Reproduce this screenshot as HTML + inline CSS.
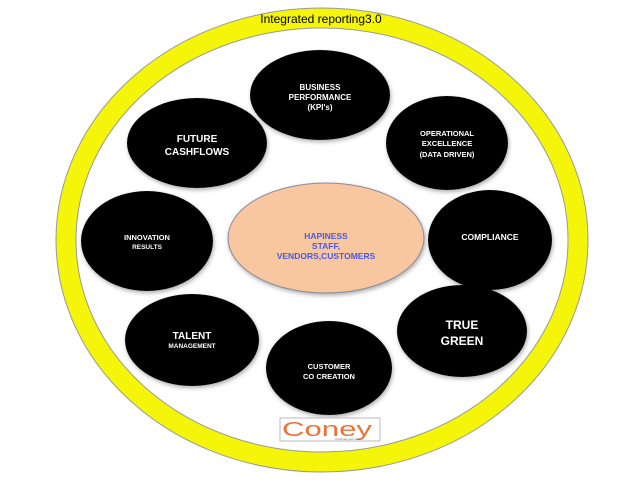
<!DOCTYPE html>
<html><head><style>
html,body{margin:0;padding:0;background:#fff;}
text{font-family:"Liberation Sans",sans-serif;}
</style></head><body>
<svg width="640" height="480" viewBox="0 0 640 480" xmlns="http://www.w3.org/2000/svg">
<defs><filter id="s" x="-20%" y="-20%" width="140%" height="140%"><feDropShadow dx="1" dy="2" stdDeviation="2" flood-color="#777" flood-opacity="0.6"/></filter></defs>
<ellipse cx="322" cy="240" rx="266" ry="232" fill="#f5f50a" stroke="#999" stroke-width="1"/>
<ellipse cx="322" cy="240" rx="246" ry="212" fill="#fff" stroke="#999" stroke-width="1"/>
<text x="321" y="23" font-size="12" text-anchor="middle" fill="#000">Integrated reporting3.0</text>
<g fill="#000" filter="url(#s)">
<ellipse cx="320" cy="95" rx="70" ry="45"/>
<ellipse cx="197" cy="143" rx="70" ry="45"/>
<ellipse cx="447" cy="143" rx="61" ry="47"/>
<ellipse cx="147" cy="241" rx="66" ry="50"/>
<ellipse cx="490" cy="240" rx="62" ry="50"/>
<ellipse cx="192" cy="340" rx="67" ry="46"/>
<ellipse cx="462" cy="331" rx="65" ry="46"/>
<ellipse cx="329" cy="368" rx="63" ry="47"/>
</g>
<ellipse cx="326" cy="238" rx="98" ry="55" fill="#f8c79f" stroke="#8a8a9a" stroke-width="1" filter="url(#s)"/>
<g fill="#fff" text-anchor="middle" font-weight="bold">
<text x="320" y="90" font-size="8">BUSINESS</text>
<text x="320" y="100" font-size="8">PERFORMANCE</text>
<text x="320" y="110" font-size="8">(KPI's)</text>
<text x="197" y="142" font-size="10">FUTURE</text>
<text x="197" y="155" font-size="10">CASHFLOWS</text>
<text x="447" y="136" font-size="7.5">OPERATIONAL</text>
<text x="447" y="146" font-size="7.5">EXCELLENCE</text>
<text x="447" y="157" font-size="7.5">(DATA DRIVEN)</text>
<text x="147" y="240" font-size="7.5">INNOVATION</text>
<text x="147" y="249" font-size="6.5">RESULTS</text>
<text x="490" y="240" font-size="8.5">COMPLIANCE</text>
<text x="192" y="339" font-size="10">TALENT</text>
<text x="192" y="348" font-size="6.5">MANAGEMENT</text>
<text x="462" y="329" font-size="12">TRUE</text>
<text x="462" y="345" font-size="12">GREEN</text>
<text x="329" y="369" font-size="7.5">CUSTOMER</text>
<text x="329" y="379" font-size="7.5">CO CREATION</text>
</g>
<g fill="#4a5ae0" text-anchor="middle" font-weight="bold" font-size="8.5">
<text x="326" y="239">HAPINESS</text>
<text x="326" y="249">STAFF,</text>
<text x="326" y="259">VENDORS,CUSTOMERS</text>
</g>
<rect x="280" y="418" width="100" height="23" fill="#fff" stroke="#bbb" stroke-width="1"/>
<text x="282" y="436" font-size="20" fill="#e8743a" textLength="90" lengthAdjust="spacingAndGlyphs">Coney</text>
<text x="348" y="440" font-size="3" text-anchor="middle" fill="#666">Powered your data</text>
</svg>
</body></html>
